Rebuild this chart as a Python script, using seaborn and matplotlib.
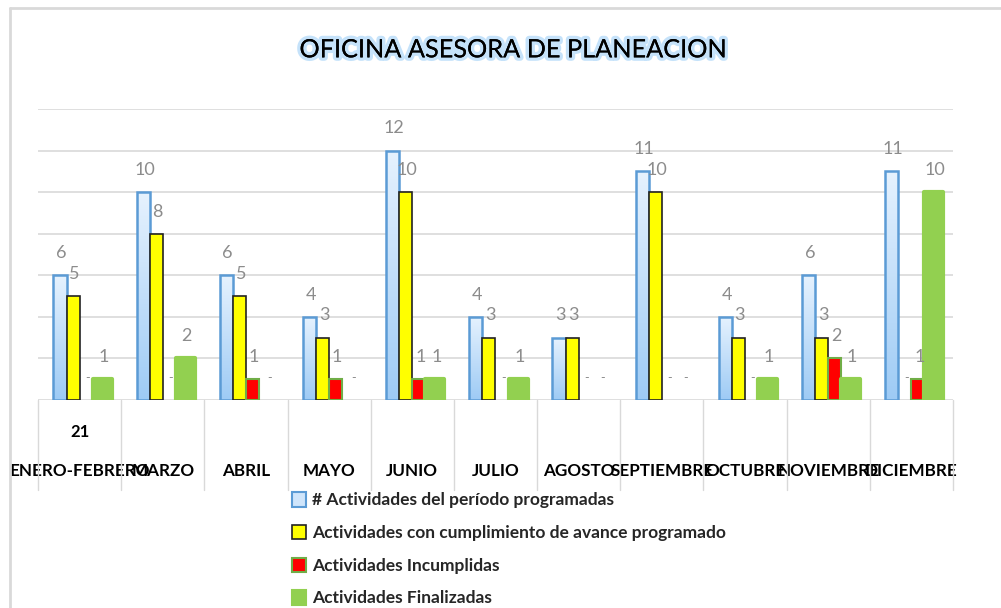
import numpy as np
import pandas as pd
import matplotlib.pyplot as plt
import seaborn as sns
from matplotlib.colors import LinearSegmentedColormap
from matplotlib.lines import Line2D
from matplotlib.patches import Patch
import matplotlib.patheffects as pe

# data
meses = ['ENERO-FEBRERO', 'MARZO', 'ABRIL', 'MAYO', 'JUNIO', 'JULIO', 'AGOSTO',
         'SEPTIEMBRE', 'OCTUBRE', 'NOVIEMBRE', 'DICIEMBRE']
programadas = [6, 10, 6, 4, 12, 4, 3, 11, 4, 6, 11]
cumplimiento = [5, 8, 5, 3, 10, 3, 3, 10, 3, 3, 0]
incumplidas = [0, 0, 1, 1, 1, 0, 0, 0, 0, 2, 1]
finalizadas = [1, 2, 0, 0, 1, 1, 0, 0, 1, 1, 10]
series = ['# Actividades del período programadas',
          'Actividades con cumplimiento de avance programado',
          'Actividades Incumplidas',
          'Actividades Finalizadas']

df = pd.DataFrame({'mes': meses * 4,
                   'serie': np.repeat(series, len(meses)),
                   'valor': programadas + cumplimiento + incumplidas + finalizadas})

sns.set_style('white')
plt.rcParams['font.family'] = ['Lato', 'DejaVu Sans']

fig = plt.figure(figsize=(10.01, 6.08), dpi=100)
ax = fig.add_axes([0.038, 0.342, 0.914, 0.4786])

sns.barplot(data=df, x='mes', y='valor', hue='serie', hue_order=series, order=meses,
            width=0.63, ax=ax, legend=False, saturation=1)

ax.set_xlim(-0.5, 10.5)
ax.set_ylim(0, 14)
ax.set_yticks(np.arange(0, 15, 2))
ax.yaxis.grid(True, color='#d9d9d9', lw=1.2)
ax.set_axisbelow(True)
for s in ax.spines.values():
    s.set_visible(False)
ax.set_yticklabels([])
ax.tick_params(axis='y', length=0)
ax.set_xlabel('')
ax.set_ylabel('')

blue, yellow, red, green = ax.containers

# blue gradient bars
cmap = LinearSegmentedColormap.from_list('b', ['#9ecbf5', '#e6f2fe'])
grad = np.linspace(0, 1, 100).reshape(-1, 1)
for p in blue:
    p.set_facecolor('none')
    p.set_edgecolor('#5b9bd5')
    p.set_linewidth(1.8)
    x0, w, h = p.get_x(), p.get_width(), p.get_height()
    im = ax.imshow(grad, extent=[x0, x0 + w, 0, h], origin='lower', aspect='auto',
                   cmap=cmap, zorder=p.get_zorder() - 0.1)
    im.set_clip_path(p)
ax.set_xlim(-0.5, 10.5)
ax.set_ylim(0, 14)

for p in yellow:
    p.set_facecolor('#ffff00')
    p.set_edgecolor('#222222')
    p.set_linewidth(1.2)
for p in red:
    p.set_facecolor('#ff0000')
    p.set_edgecolor('#70ad47')
    p.set_linewidth(1.5)
for p in green:
    p.set_facecolor('#92d050')
    p.set_edgecolor('#92d050')
    p.set_linewidth(3)
    p.set_joinstyle('round')
    w = p.get_width()
    p.set_width(w * 1.45)
    p.set_zorder(p.get_zorder() + 0.2)
for cont in ax.containers:
    for p in cont:
        if p.get_height() == 0:
            p.set_linewidth(0)

for cont, vals in zip(ax.containers, [programadas, cumplimiento, incumplidas, finalizadas]):
    for p, v in zip(cont, vals):
        ax.annotate(str(v) if v else '-', (p.get_x() + p.get_width() / 2, v),
                    xytext=(1, 16), textcoords='offset points', ha='center', va='center',
                    color='#8c8c8c', fontsize=13 if v else 9, zorder=5)

# category grid below the axis
for i in range(len(meses) + 1):
    ax.axvline(i - 0.5, ymin=-0.31, ymax=0, clip_on=False, color='#d9d9d9', lw=1)
ax.text(0, -0.11, '21', transform=ax.get_xaxis_transform(), ha='center', va='center',
        fontsize=12, fontweight='bold', color='black')

ax.set_xticks(range(len(meses)))
ax.set_xticklabels(meses, fontsize=12.3, fontweight='bold', color='black')
ax.tick_params(axis='x', length=0, pad=45)

fig.text(0.512, 0.918, 'OFICINA ASESORA DE PLANEACION', ha='center', va='center',
         fontsize=18.2, color='black',
         path_effects=[pe.withStroke(linewidth=5, foreground='#9fd0f7', alpha=0.6),
                       pe.Normal()])

handles = [Patch(facecolor='#cfe5fb', edgecolor='#5b9bd5', lw=1.5),
           Patch(facecolor='#ffff00', edgecolor='#222222', lw=1.2),
           Patch(facecolor='#ff0000', edgecolor='#70ad47', lw=1.5),
           Patch(facecolor='#92d050', edgecolor='#92d050', lw=1.5)]
fig.legend(handles, series, loc='upper left', bbox_to_anchor=(0.285, 0.202),
           frameon=False, handlelength=0.8, handleheight=0.9, handletextpad=0.35,
           labelspacing=0.95, prop={'weight': 'bold', 'size': 12.5}, borderaxespad=0)

# outer frame
fig.add_artist(Line2D([10 / 1001, 10 / 1001], [0, 1 - 8 / 608], color='#d9d9d9', lw=2))
fig.add_artist(Line2D([10 / 1001, 1], [1 - 8 / 608, 1 - 8 / 608], color='#d9d9d9', lw=2))

fig.savefig('out.png', dpi=100)
